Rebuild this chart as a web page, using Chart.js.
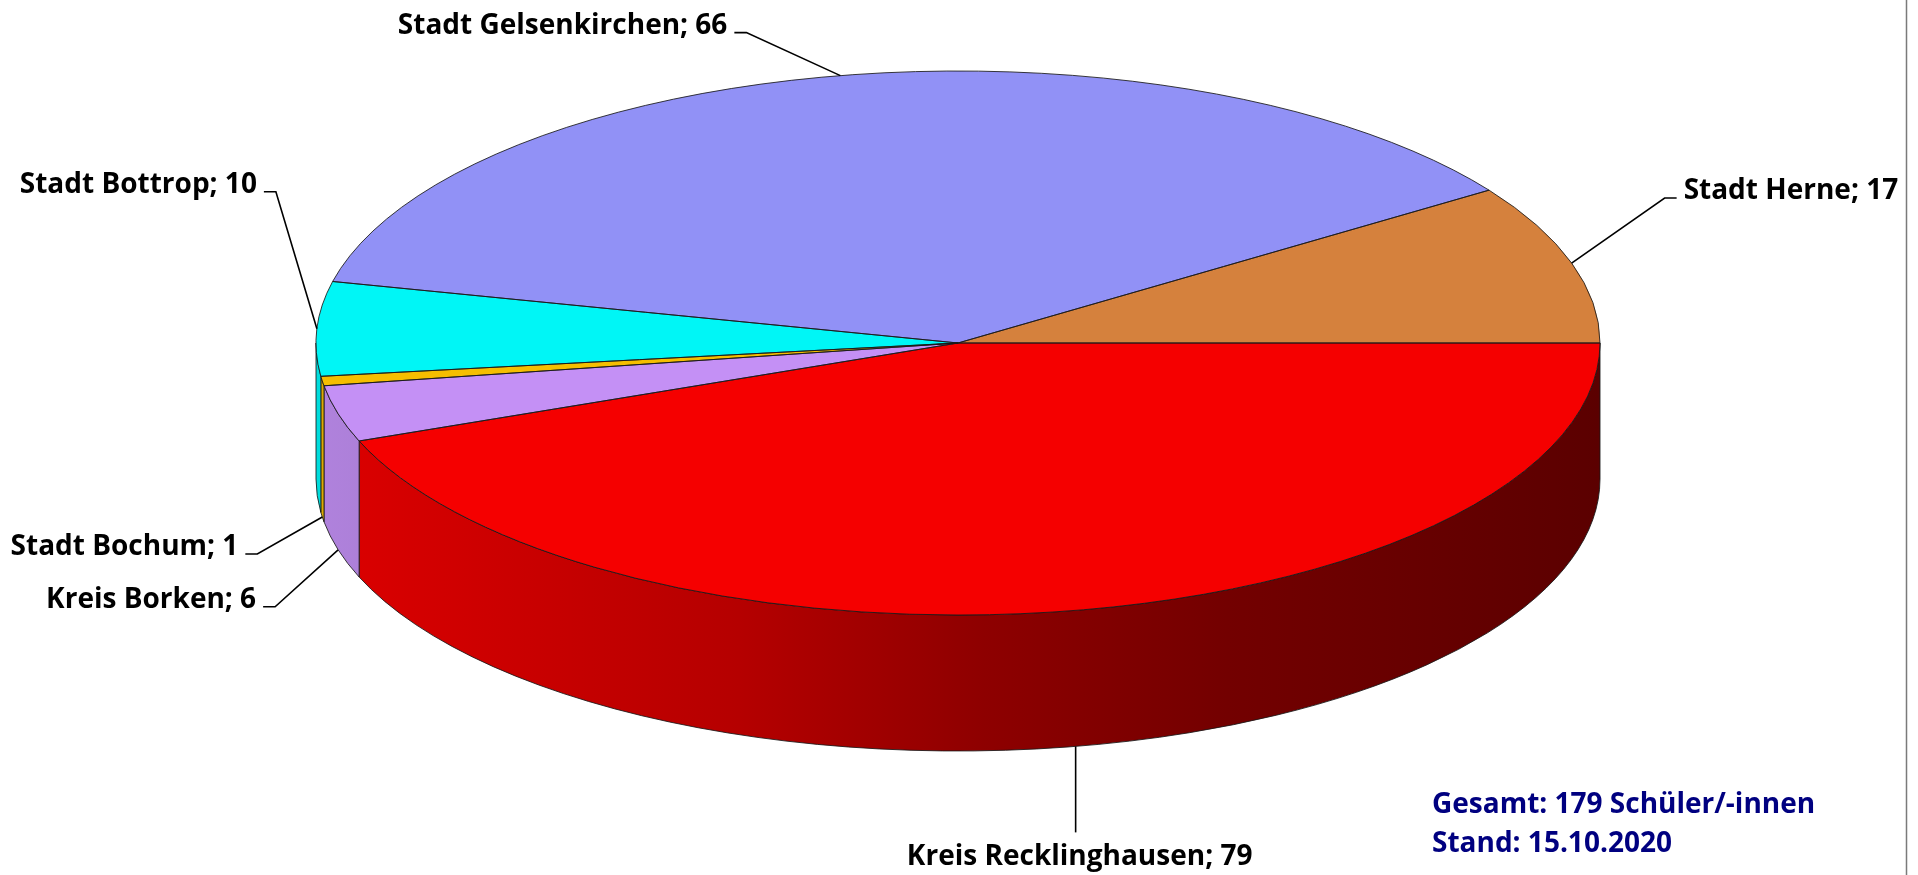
<!DOCTYPE html>
<html><head><meta charset="utf-8">
<script src="https://cdn.jsdelivr.net/npm/chart.js@4/dist/chart.umd.min.js"></script>
<style>html,body{margin:0;padding:0;background:#fff;overflow:hidden}canvas{display:block}</style>
</head><body>
<canvas id="c" width="1918" height="875"></canvas>
<script>
// ---- data ----
const categories = ['Kreis Recklinghausen', 'Kreis Borken', 'Stadt Bochum', 'Stadt Bottrop', 'Stadt Gelsenkirchen', 'Stadt Herne'];
const students = [79, 6, 1, 10, 66, 17];
const noteLines = ['Gesamt: 179 Schüler/-innen', 'Stand: 15.10.2020'];

// ---- styles / layout ----
const topColors = ['#F50000', '#C490F5', '#F5BE00', '#00F6F6', '#9191F6', '#D5813D'];
const wallStops = [[0, 0.9], [0.33, 0.74], [0.52, 0.58], [0.71, 0.47], [1, 0.37]];
const labelLayout = [
  {dx: 0, dy: 86, side: 'below'},
  {dx: -63, dy: 57, side: 'left'},
  {dx: -65, dy: 37, side: 'left'},
  {dx: -41, dy: -137, side: 'left'},
  {dx: -94, dy: -43, side: 'left'},
  {dx: 93, dy: -65, side: 'right'}
];
const DEPTH = 136;
const FONT = 'bold 28px "Open Sans"';

function shade(hex, f) {
  const n = parseInt(hex.slice(1), 16);
  const r = Math.round(((n >> 16) & 255) * f), g = Math.round(((n >> 8) & 255) * f), b = Math.round((n & 255) * f);
  return `rgb(${r},${g},${b})`;
}
function geom(chart) {
  const a = chart.getDatasetMeta(0).data[0];
  const ca = chart.chartArea;
  return {cx: a.x, cy: a.y, rx: (ca.right - ca.left) / 2, ry: (ca.bottom - ca.top) / 2, R: a.outerRadius};
}

const pie3d = {
  id: 'pie3d',
  beforeDatasetsDraw(chart) {
    const ctx = chart.ctx, g = geom(chart);
    const meta = chart.getDatasetMeta(0);
    meta.data.forEach((arc, i) => {
      const {startAngle, endAngle} = arc.getProps(['startAngle', 'endAngle'], true);
      for (let k = -1; k <= 1; k++) {
        const lo = Math.max(startAngle, k * 2 * Math.PI), hi = Math.min(endAngle, k * 2 * Math.PI + Math.PI);
        if (hi <= lo) continue;
        ctx.beginPath();
        ctx.ellipse(g.cx, g.cy, g.rx, g.ry, 0, lo, hi, false);
        ctx.ellipse(g.cx, g.cy + DEPTH, g.rx, g.ry, 0, hi, lo, true);
        ctx.closePath();
        const grad = ctx.createLinearGradient(g.cx - g.rx, 0, g.cx + g.rx, 0);
        wallStops.forEach(([p, f]) => grad.addColorStop(p, shade(topColors[i], f)));
        ctx.fillStyle = grad;
        ctx.fill();
        ctx.lineWidth = 1;
        ctx.strokeStyle = 'rgba(25,25,25,0.85)';
        ctx.stroke();
      }
    });
    ctx.save();
    ctx.translate(g.cx, g.cy);
    ctx.scale(g.rx / g.R, g.ry / g.R);
    ctx.translate(-g.cx, -g.cy);
  },
  afterDatasetsDraw(chart) {
    const ctx = chart.ctx;
    ctx.restore();
    const g = geom(chart);
    const meta = chart.getDatasetMeta(0);
    // top face outlines
    meta.data.forEach(arc => {
      const {startAngle, endAngle} = arc.getProps(['startAngle', 'endAngle'], true);
      ctx.beginPath();
      ctx.moveTo(g.cx, g.cy);
      ctx.ellipse(g.cx, g.cy, g.rx, g.ry, 0, startAngle, endAngle, false);
      ctx.closePath();
      ctx.lineWidth = 1;
      ctx.strokeStyle = 'rgba(25,25,25,0.85)';
      ctx.stroke();
    });
    // labels with leader lines
    ctx.save();
    ctx.font = FONT;
    ctx.fillStyle = '#000';
    ctx.strokeStyle = '#000';
    ctx.lineWidth = 1.6;
    meta.data.forEach((arc, i) => {
      const {startAngle, endAngle} = arc.getProps(['startAngle', 'endAngle'], true);
      const m = (startAngle + endAngle) / 2;
      const front = Math.sin(m) > 0;
      const ax = g.cx + g.rx * Math.cos(m);
      const ay = g.cy + g.ry * Math.sin(m) + (front ? DEPTH : 0);
      const L = labelLayout[i];
      const ex = ax + L.dx, ey = ay + L.dy;
      ctx.beginPath();
      ctx.moveTo(ax, ay);
      ctx.lineTo(ex, ey);
      if (L.side === 'left') ctx.lineTo(ex - 12, ey);
      if (L.side === 'right') ctx.lineTo(ex + 12, ey);
      ctx.stroke();
      const txt = categories[i] + '; ' + students[i];
      ctx.textBaseline = 'alphabetic';
      if (L.side === 'left') { ctx.textAlign = 'right'; ctx.fillText(txt, ex - 19, ey + 1); }
      else if (L.side === 'right') { ctx.textAlign = 'left'; ctx.fillText(txt, ex + 19, ey + 1); }
      else { ctx.textAlign = 'center'; ctx.fillText(txt, ex + 4, ey + 33); }
    });
    ctx.restore();
  },
  afterDraw(chart) {
    const ctx = chart.ctx;
    ctx.save();
    ctx.font = FONT;
    ctx.fillStyle = '#000080';
    ctx.textAlign = 'left';
    ctx.textBaseline = 'alphabetic';
    ctx.fillText(noteLines[0], 1432, 813);
    ctx.fillText(noteLines[1], 1432, 852);
    ctx.strokeStyle = '#7a7a7a';
    ctx.lineWidth = 1.5;
    ctx.beginPath();
    ctx.moveTo(1906.5, 0);
    ctx.lineTo(1906.5, 875);
    ctx.stroke();
    ctx.restore();
  }
};

new Chart(document.getElementById('c'), {
  type: 'pie',
  data: {
    labels: categories,
    datasets: [{data: students, backgroundColor: topColors, borderWidth: 0, hoverOffset: 0, offset: 0, clip: false}]
  },
  options: {
    responsive: false,
    animation: false,
    events: [],
    rotation: 90,
    layout: {padding: {left: 316, right: 318, top: 71, bottom: 260}},
    plugins: {legend: {display: false}, tooltip: {enabled: false}}
  },
  plugins: [pie3d]
});
</script>
</body></html>
